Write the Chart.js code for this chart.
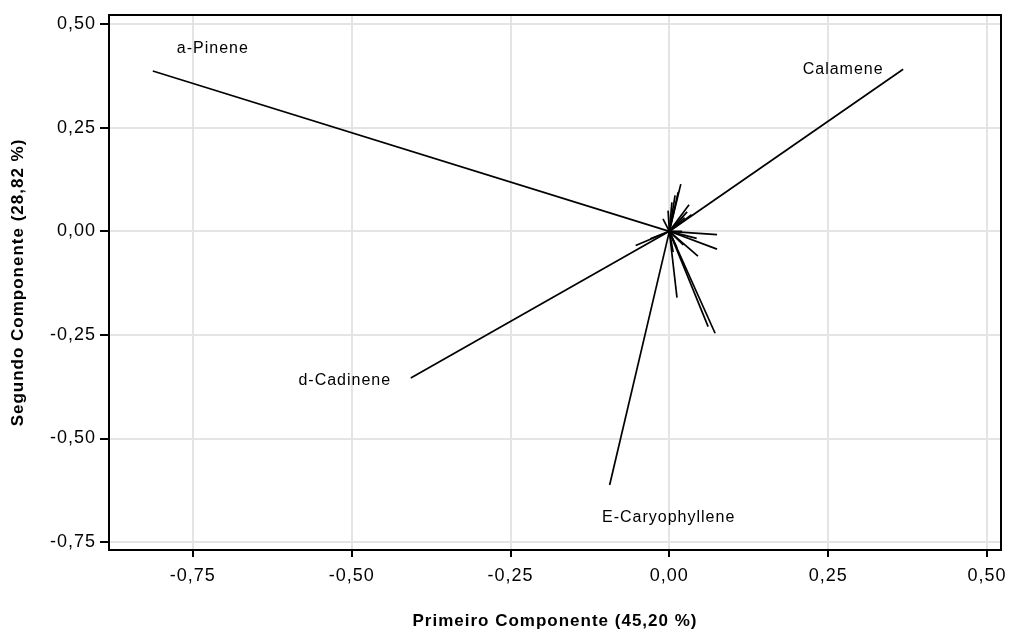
<!DOCTYPE html>
<html>
<head>
<meta charset="utf-8">
<script src="https://cdn.jsdelivr.net/npm/chart.js@4.4.1/dist/chart.umd.min.js"></script>
<style>
  html, body { margin: 0; padding: 0; background: #fff; }
  #wrap { width: 1010px; height: 633px; }
</style>
</head>
<body>
<div id="wrap"><canvas id="biplot"></canvas></div>
<script>
// loadings of each variable (PC1, PC2)
const varNames = ['a-Pinene', 'Calamene', 'd-Cadinene', 'E-Caryophyllene',
    'v5', 'v6', 'v7', 'v8', 'v9', 'v10', 'v11', 'v12', 'v13', 'v14',
    'v15', 'v16', 'v17', 'v18', 'v19', 'v20', 'v21', 'v22', 'v23',
    'v24', 'v25', 'v26', 'v27'];
const pc1 = [-0.813, 0.368, -0.407, -0.094,
    0.018, 0.009, 0.031, 0.028, 0.024, -0.002, 0.004, 0.075, 0.075, 0.045,
    -0.053, 0.012, 0.061, 0.072, 0.022, 0.012, 0.020, 0.043, -0.010,
    0.014, 0.035, -0.030, 0.006];
const pc2 = [0.387, 0.391, -0.354, -0.612,
    0.114, 0.087, 0.064, 0.047, 0.033, 0.050, 0.070, -0.008, -0.043, -0.060,
    -0.034, -0.160, -0.230, -0.246, -0.033, -0.040, 0.000, -0.017, 0.030,
    0.095, 0.040, -0.018, -0.050];
const shownLabels = ['a-Pinene', 'Calamene', 'd-Cadinene', 'E-Caryophyllene'];
const tickValues = [-0.75, -0.5, -0.25, 0, 0.25, 0.5];

// pixel offsets of the label text from the end of its vector
const labelOffsets = {
    'a-Pinene': [60, -22],
    'Calamene': [-60, 0],
    'd-Cadinene': [-66, 3],
    'E-Caryophyllene': [59, 33]
};

const fmt = v => v.toFixed(2).replace('.', ',');

const vectorLabels = {
    id: 'vectorLabels',
    afterDatasetsDraw(chart) {
        const ctx = chart.ctx;
        const xs = chart.scales.x, ys = chart.scales.y;
        ctx.save();
        ctx.font = '16px "Liberation Sans", Arial, sans-serif';
        ctx.letterSpacing = '1px';
        ctx.fillStyle = '#000';
        ctx.textAlign = 'center';
        ctx.textBaseline = 'middle';
        shownLabels.forEach(name => {
            const i = varNames.indexOf(name);
            const off = labelOffsets[name];
            ctx.fillText(name, xs.getPixelForValue(pc1[i]) + off[0], ys.getPixelForValue(pc2[i]) + off[1]);
        });
        ctx.restore();
    }
};

const frame = {
    id: 'frame',
    beforeDraw(chart) {
        chart.ctx.letterSpacing = '1px';
    },
    afterDraw(chart) {
        const { left, top, right, bottom } = chart.chartArea;
        const ctx = chart.ctx;
        ctx.save();
        ctx.strokeStyle = '#000';
        ctx.lineWidth = 2;
        ctx.strokeRect(left, top, right - left, bottom - top);
        ctx.restore();
    }
};

const setTicks = scale => { scale.ticks = tickValues.map(v => ({ value: v })); };

new Chart(document.getElementById('biplot'), {
    type: 'scatter',
    data: {
        datasets: varNames.map((n, i) => ({
            label: n,
            data: [{ x: 0, y: 0 }, { x: pc1[i], y: pc2[i] }],
            showLine: true,
            borderColor: '#000',
            borderWidth: 1.7,
            pointRadius: 0,
            pointHoverRadius: 0
        }))
    },
    options: {
        responsive: true,
        maintainAspectRatio: false,
        animation: false,
        layout: { padding: { top: 15, right: 9, left: 0, bottom: 0 } },
        plugins: { legend: { display: false }, tooltip: { enabled: false } },
        scales: {
            x: {
                type: 'linear',
                min: -0.882,
                max: 0.522,
                afterBuildTicks: setTicks,
                afterFit: s => { s.height = 83; s.paddingLeft = 0; s.paddingRight = 0; },
                border: { display: false },
                grid: { color: '#e4e4e4', lineWidth: 2, tickColor: '#000', tickWidth: 2, tickLength: 7 },
                ticks: { color: '#000', font: { size: 18, family: '"Liberation Sans", Arial, sans-serif' }, padding: 8, callback: fmt, maxRotation: 0 },
                title: { display: true, text: 'Primeiro Componente (45,20 %)', color: '#000',
                    font: { size: 17, weight: 'bold', family: '"Liberation Sans", Arial, sans-serif' }, padding: { top: 0, bottom: 1 } }
            },
            y: {
                type: 'linear',
                min: -0.769,
                max: 0.522,
                afterBuildTicks: setTicks,
                afterFit: s => { s.width = 109; s.paddingTop = 0; s.paddingBottom = 0; },
                border: { display: false },
                grid: { color: '#e4e4e4', lineWidth: 2, tickColor: '#000', tickWidth: 2, tickLength: 9 },
                ticks: { color: '#000', font: { size: 18, family: '"Liberation Sans", Arial, sans-serif' }, padding: 4, callback: fmt },
                title: { display: true, text: 'Segundo Componente (28,82 %)', color: '#000',
                    font: { size: 17, weight: 'bold', family: '"Liberation Sans", Arial, sans-serif' }, padding: { top: 8, bottom: 0 } }
            }
        }
    },
    plugins: [vectorLabels, frame]
});
</script>
</body>
</html>
